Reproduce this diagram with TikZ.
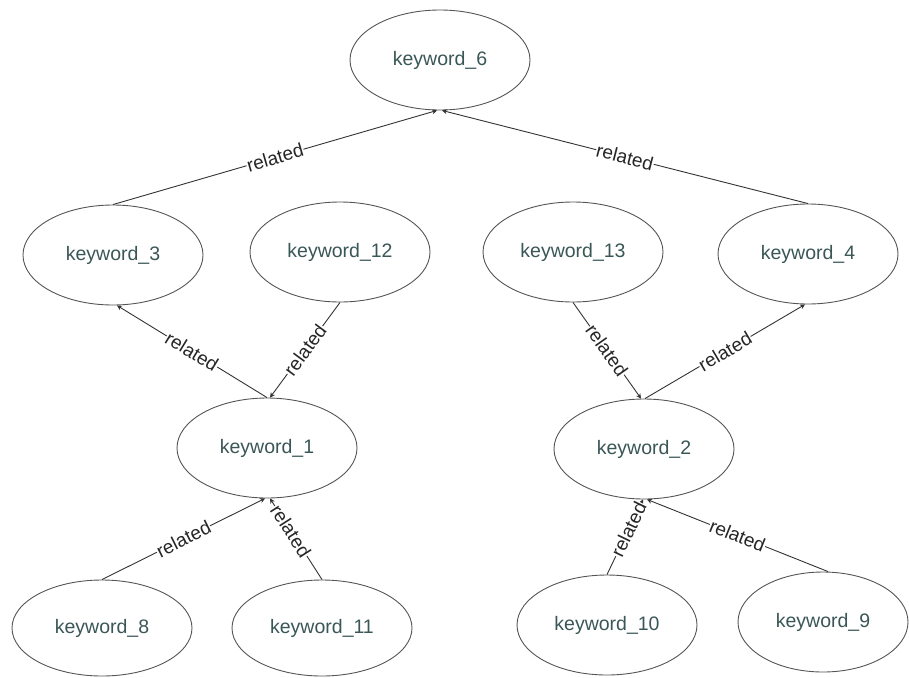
\documentclass[tikz,border=0pt]{standalone}
\usepackage{fontspec}
\setmainfont{Liberation Sans}
\usetikzlibrary{shapes.geometric,arrows.meta}
\definecolor{kwtext}{HTML}{3A5656}
\definecolor{kwline}{HTML}{555555}
\definecolor{edgeline}{HTML}{333333}
\tikzset{
  kw/.style={ellipse, draw=kwline, line width=0.9pt, minimum width=180pt, minimum height=100pt,
    inner sep=0pt, text=kwtext, font=\fontsize{19.5}{22}\selectfont},
  rel/.style={draw=edgeline, line width=0.9pt, -{Stealth[length=5pt,width=5pt,fill=black]}},
  lbl/.style={sloped, fill=white, inner sep=0.5pt, text=black!85, font=\fontsize{19}{21}\selectfont}
}
\begin{document}
\begin{tikzpicture}[x=1pt,y=-1pt]
\useasboundingbox (0,0) rectangle (909,677);
% keyword nodes
\node[kw] (k6) at (440,60) {keyword\_6};
\node[kw] (k3) at (113,255) {keyword\_3};
\node[kw] (k12) at (340,252) {keyword\_12};
\node[kw] (k13) at (573,252) {keyword\_13};
\node[kw] (k4) at (808,254) {keyword\_4};
\node[kw] (k1) at (267,448) {keyword\_1};
\node[kw] (k2) at (644,449) {keyword\_2};
\node[kw, minimum height=96pt] (k8) at (102,628) {keyword\_8};
\node[kw, minimum height=96pt] (k11) at (322,628) {keyword\_11};
\node[kw] (k10) at (607,625) {keyword\_10};
\node[kw, minimum width=170pt] (k9) at (823,622) {keyword\_9};
% relations
\draw[rel] (k3.north) -- node[lbl] {related} ([xshift=-3pt]k6.south);
\draw[rel] (k4.north) -- node[lbl] {related} ([xshift=2pt]k6.south);
\draw[rel] (k1.north) -- node[lbl] {related} ([xshift=4pt]k3.south);
\draw[rel] (k12.south) -- node[lbl] {related} ([xshift=3pt]k1.north);
\draw[rel] (k13.south) -- node[lbl] {related} ([xshift=-3pt]k2.north);
\draw[rel] ([xshift=1pt]k2.north) -- node[lbl] {related} ([xshift=-3pt]k4.south);
\draw[rel] (k8.north) -- node[lbl] {related} ([xshift=-2pt]k1.south);
\draw[rel] (k11.north) -- node[lbl, pos=0.6] {related} ([xshift=3pt]k1.south);
\draw[rel] (k10.north) -- node[lbl, pos=0.6] {related} ([xshift=-1pt]k2.south);
\draw[rel] ([xshift=5pt]k9.north) -- node[lbl] {related} ([xshift=3pt]k2.south);
\end{tikzpicture}
\end{document}
